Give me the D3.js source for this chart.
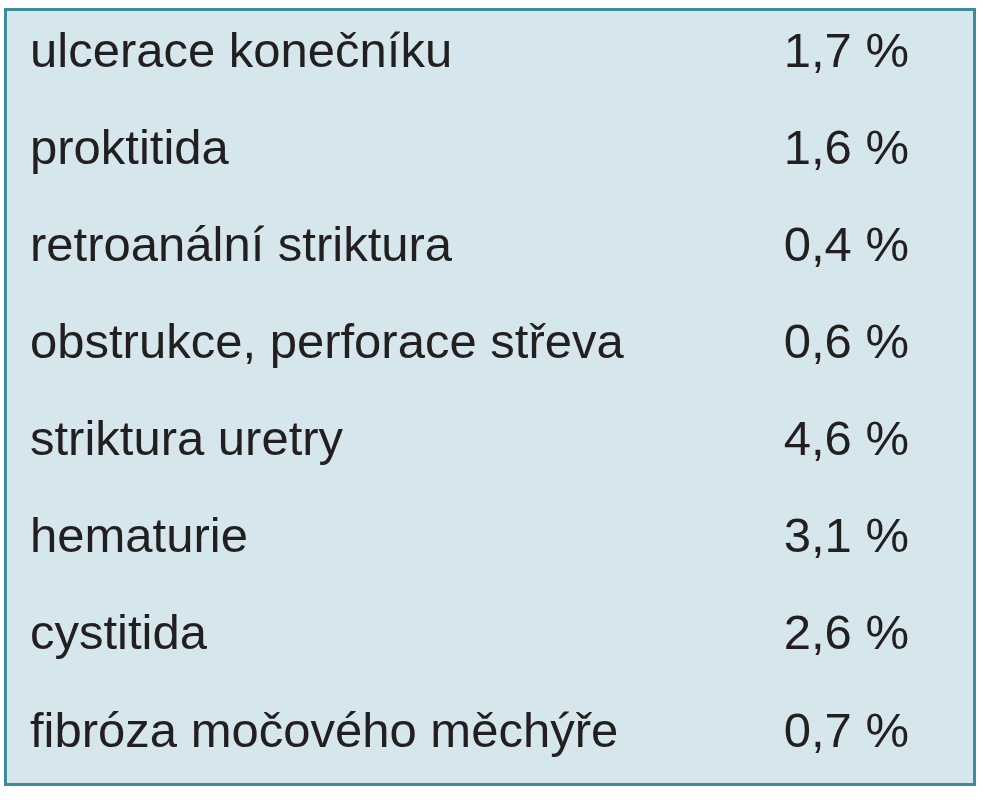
<!DOCTYPE html>
<html><head><meta charset="utf-8">
<script src="https://cdn.jsdelivr.net/npm/d3@7"></script>
<style>body{margin:0;background:#fff}</style>
</head><body>
<svg id="c" width="983" height="800"></svg>
<script>
const labels = ["ulcerace konečníku","proktitida","retroanální striktura","obstrukce, perforace střeva","striktura uretry","hematurie","cystitida","fibróza močového měchýře"];
const values = ["1,7 %","1,6 %","0,4 %","0,6 %","4,6 %","3,1 %","2,6 %","0,7 %"];

const svg = d3.select("#c");
svg.append("rect").attr("x", 5.5).attr("y", 9.5).attr("width", 969).attr("height", 775)
  .attr("fill", "#d5e6ec").attr("stroke", "#3b8d9c").attr("stroke-width", 3);

const y = d3.scaleBand().domain(labels).range([1, 778]);

const row = svg.selectAll("g.row").data(labels).enter().append("g")
  .attr("transform", d => "translate(0," + (y(d) + y.bandwidth() / 2) + ")");
const font = "'Liberation Sans', sans-serif";
row.append("text").attr("x", 30).attr("dy", "0.35em")
  .style("font-family", font).style("font-size", "49px").attr("fill", "#231f20")
  .text(d => d);
row.append("text").attr("x", 909).attr("dy", "0.35em").attr("text-anchor", "end")
  .style("font-family", font).style("font-size", "49px").attr("fill", "#231f20")
  .text((d, i) => values[i]);
</script>
</body></html>
